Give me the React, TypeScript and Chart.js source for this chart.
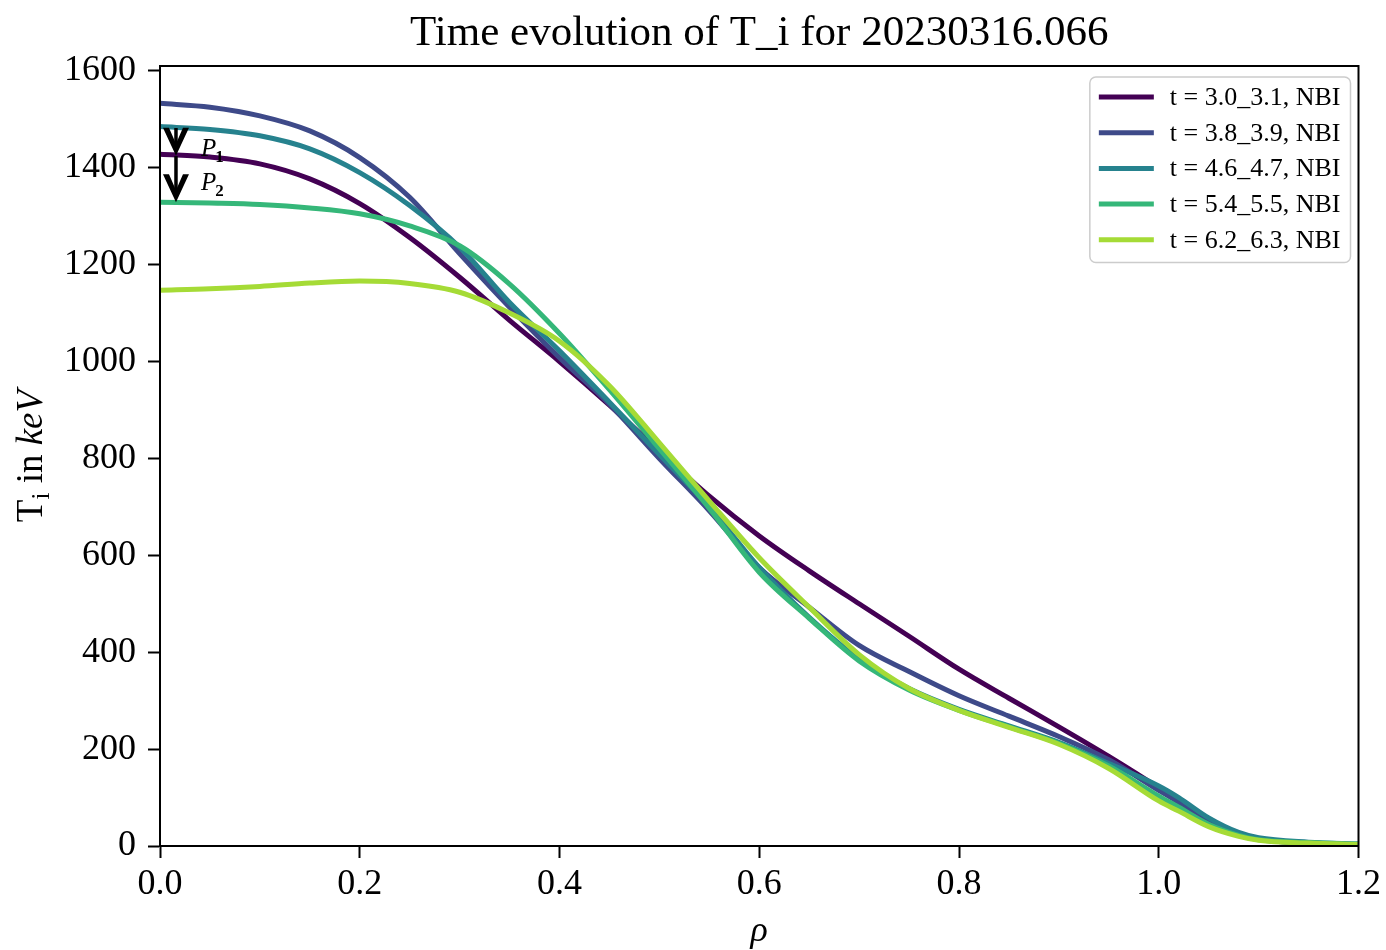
import React, { useEffect, useRef } from 'react';
import { Chart, registerables } from 'chart.js';

Chart.register(...registerables);

// ---------- data ----------
const rho = [0, 0.05, 0.1, 0.15, 0.2, 0.25, 0.3, 0.35, 0.4, 0.45, 0.5, 0.55, 0.6, 0.65, 0.7, 0.75, 0.8, 0.85, 0.9, 0.95, 1.0, 1.02, 1.05, 1.08, 1.1, 1.15, 1.2];

const ti_30_31 = [1428, 1422, 1408, 1377, 1326, 1256, 1174, 1085, 1000, 910, 815, 722, 640, 568, 500, 433, 365, 305, 246, 185, 120, 92, 50, 24, 14, 6, 3];
const ti_38_39 = [1533, 1525, 1507, 1476, 1421, 1339, 1223, 1112, 1008, 912, 800, 692, 575, 493, 414, 360, 310, 268, 226, 178, 115, 90, 50, 24, 14, 6, 3];
const ti_46_47 = [1485, 1479, 1466, 1439, 1390, 1322, 1236, 1122, 1022, 916, 808, 700, 575, 472, 386, 325, 282, 248, 214, 170, 124, 100, 58, 28, 17, 8, 4];
const ti_54_55 = [1329, 1327, 1324, 1317, 1305, 1280, 1239, 1160, 1058, 942, 820, 697, 565, 470, 382, 322, 280, 246, 212, 165, 103, 80, 45, 22, 13, 7, 4];
const ti_62_63 = [1147, 1150, 1155, 1162, 1166, 1161, 1143, 1100, 1042, 950, 832, 712, 595, 493, 395, 325, 280, 245, 210, 160, 93, 72, 40, 20, 12, 6, 3];

const seriesValues = [ti_30_31, ti_38_39, ti_46_47, ti_54_55, ti_62_63];
const seriesLabels = ['t = 3.0_3.1, NBI', 't = 3.8_3.9, NBI', 't = 4.6_4.7, NBI', 't = 5.4_5.5, NBI', 't = 6.2_6.3, NBI'];
const seriesColors = ['#440154', '#3e4a89', '#26828e', '#35b779', '#a5db36'];

const xTicks = [0, 0.2, 0.4, 0.6, 0.8, 1.0, 1.2];
const yTicks = [0, 200, 400, 600, 800, 1000, 1200, 1400, 1600];

const titleText = 'Time evolution of T_i for 20230316.066';

// annotation arrows (data coordinates)
const arrowRho = [0.016, 0.016];
const arrowFrom = [1482, 1424];
const arrowTo = [1425, 1329];
const pLabelRho = [0.041, 0.041];
const pLabelT = [1425, 1355];
const pLabelSub = ['1', '2'];

const SERIF = '"Liberation Serif", "Times New Roman", serif';

const decorPlugin = {
  id: 'decor',
  afterDraw(chart: any) {
    const { ctx, chartArea: ca, scales } = chart;
    const xs = scales.x;
    const ys = scales.y;
    ctx.save();

    // spines (box)
    ctx.strokeStyle = '#000';
    ctx.lineWidth = 2;
    ctx.strokeRect(ca.left, ca.top, ca.right - ca.left, ca.bottom - ca.top);

    // title
    ctx.fillStyle = '#000';
    ctx.textAlign = 'center';
    ctx.textBaseline = 'alphabetic';
    ctx.font = `43px ${SERIF}`;
    ctx.fillText(titleText, (ca.left + ca.right) / 2, 45);

    // x label
    ctx.font = `italic 36px ${SERIF}`;
    ctx.fillText('ρ', (ca.left + ca.right) / 2, 941);

    // y label: T_i in keV (rotated)
    {
      const parts = [
        { t: 'T', f: `37px ${SERIF}`, dy: 0 },
        { t: 'i', f: `25px ${SERIF}`, dy: 7 },
        { t: ' in ', f: `37px ${SERIF}`, dy: 0 },
        { t: 'keV', f: `italic 37px ${SERIF}`, dy: 0 },
      ];
      let total = 0;
      const widths = parts.map((p) => {
        ctx.font = p.f;
        const w = ctx.measureText(p.t).width;
        total += w;
        return w;
      });
      ctx.save();
      ctx.translate(42, (ca.top + ca.bottom) / 2);
      ctx.rotate(-Math.PI / 2);
      ctx.textAlign = 'left';
      let cx = -total / 2;
      parts.forEach((p, i) => {
        ctx.font = p.f;
        ctx.fillText(p.t, cx, p.dy);
        cx += widths[i];
      });
      ctx.restore();
    }

    // arrows
    ctx.fillStyle = '#000';
    ctx.strokeStyle = '#000';
    for (let i = 0; i < arrowRho.length; i++) {
      const x = xs.getPixelForValue(arrowRho[i]);
      const y0 = ys.getPixelForValue(arrowFrom[i]);
      const y1 = ys.getPixelForValue(arrowTo[i]);
      ctx.lineWidth = 3.5;
      ctx.beginPath();
      ctx.moveTo(x, y0);
      ctx.lineTo(x, y1 - 8);
      ctx.stroke();
      ctx.beginPath();
      ctx.moveTo(x, y1);
      ctx.lineTo(x - 13, y1 - 28);
      ctx.lineTo(x - 7, y1 - 28);
      ctx.lineTo(x, y1 - 12);
      ctx.lineTo(x + 7, y1 - 28);
      ctx.lineTo(x + 13, y1 - 28);
      ctx.closePath();
      ctx.fill();
    }

    // P labels
    ctx.textAlign = 'left';
    for (let i = 0; i < pLabelRho.length; i++) {
      const x = xs.getPixelForValue(pLabelRho[i]);
      const y = ys.getPixelForValue(pLabelT[i]);
      ctx.font = `italic 25px ${SERIF}`;
      ctx.fillText('P', x, y);
      const w = ctx.measureText('P').width;
      ctx.font = `bold 17px ${SERIF}`;
      ctx.fillText(pLabelSub[i], x + w - 1, y + 6);
    }

    // legend
    {
      const ds = chart.data.datasets;
      ctx.font = `26px ${SERIF}`;
      let maxW = 0;
      ds.forEach((d: any) => {
        maxW = Math.max(maxW, ctx.measureText(d.label).width);
      });
      const padL = 9, lineLen = 55, gap = 16, padR = 10;
      const rowH = 35.7;
      const boxW = padL + lineLen + gap + maxW + padR;
      const boxH = rowH * ds.length + 7;
      const right = ca.right - 8;
      const top = ca.top + 11;
      const left = right - boxW;
      ctx.beginPath();
      (ctx as any).roundRect(left, top, boxW, boxH, 6);
      ctx.fillStyle = 'rgba(255,255,255,0.8)';
      ctx.fill();
      ctx.strokeStyle = '#cccccc';
      ctx.lineWidth = 1.5;
      ctx.stroke();
      ctx.textBaseline = 'middle';
      ds.forEach((d: any, i: number) => {
        const cy = top + 20 + i * rowH;
        ctx.strokeStyle = d.borderColor;
        ctx.lineWidth = 5;
        ctx.beginPath();
        ctx.moveTo(left + padL, cy);
        ctx.lineTo(left + padL + lineLen, cy);
        ctx.stroke();
        ctx.fillStyle = '#000';
        ctx.font = `26px ${SERIF}`;
        ctx.fillText(d.label, left + padL + lineLen + gap, cy + 1);
      });
    }

    ctx.restore();
  },
};

export default function App() {
  const canvasRef = useRef<HTMLCanvasElement | null>(null);

  useEffect(() => {
    const canvas = canvasRef.current;
    if (!canvas) return;
    const datasets = seriesValues.map((vals, i) => ({
      label: seriesLabels[i],
      data: rho.map((r, j) => ({ x: r, y: vals[j] })),
      borderColor: seriesColors[i],
      backgroundColor: seriesColors[i],
      borderWidth: 5,
      pointRadius: 0,
      fill: false,
      cubicInterpolationMode: 'monotone' as const,
      order: seriesValues.length - i,
    }));

    const chart = new Chart(canvas, {
      type: 'line',
      data: { datasets },
      options: {
        animation: false,
        responsive: false,
        devicePixelRatio: 1,
        layout: { padding: { left: 0, right: 24, top: 66, bottom: 0 } },
        plugins: {
          legend: { display: false },
          title: { display: false },
          tooltip: { enabled: false },
        },
        scales: {
          x: {
            type: 'linear',
            min: 0,
            max: 1.2,
            afterFit(s: any) {
              s.height = 104;
            },
            afterBuildTicks(s: any) {
              s.ticks = xTicks.map((v) => ({ value: v }));
            },
            ticks: {
              color: '#000',
              font: { family: SERIF, size: 36 },
              padding: 5,
              maxRotation: 0,
              autoSkip: false,
              callback: (v: any) => Number(v).toFixed(1),
            },
            grid: {
              drawOnChartArea: false,
              drawTicks: true,
              tickLength: 12,
              tickWidth: 2,
              tickColor: '#000',
            },
            border: { display: true, color: '#000', width: 2 },
          },
          y: {
            type: 'linear',
            min: 0,
            max: 1610,
            afterFit(s: any) {
              s.width = 160;
            },
            afterBuildTicks(s: any) {
              s.ticks = yTicks.map((v) => ({ value: v }));
            },
            ticks: {
              color: '#000',
              font: { family: SERIF, size: 36 },
              padding: 12,
              autoSkip: false,
              callback: (v: any) => String(v),
            },
            grid: {
              drawOnChartArea: false,
              drawTicks: true,
              tickLength: 12,
              tickWidth: 2,
              tickColor: '#000',
            },
            border: { display: true, color: '#000', width: 2 },
          },
        },
      },
      plugins: [decorPlugin],
    });
    return () => chart.destroy();
  }, []);

  return (
    <div style={{ position: 'absolute', left: 0, top: 0, width: 1386, height: 950, background: '#fff' }}>
      <canvas ref={canvasRef} width={1386} height={950} style={{ width: 1386, height: 950, display: 'block' }} />
    </div>
  );
}
